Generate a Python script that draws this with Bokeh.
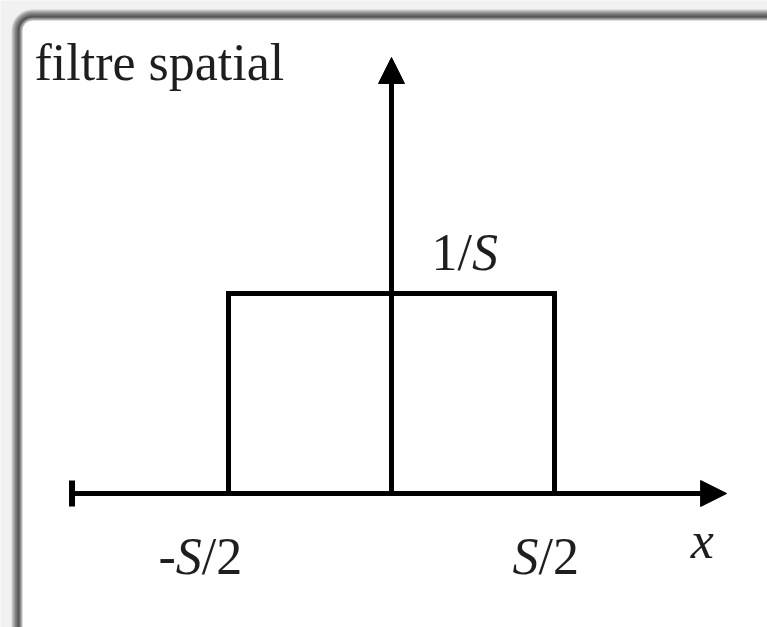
from bokeh.plotting import figure
from bokeh.models import Range1d, Arrow, NormalHead, TeeHead, BoxAnnotation
from bokeh.core.properties import value
from bokeh.embed import file_html
from bokeh.resources import INLINE

# Rectangular (box) spatial filter of width S and height 1/S
S = 1.0
pulse_x = [-S / 2, -S / 2, S / 2, S / 2]
pulse_y = [0.0, 1 / S, 1 / S, 0.0]

# Extent of the drawn axes, in units of S (x) and 1/S (y)
x_axis_start, x_axis_end = -0.98, 1.028
y_axis_end = 2.18

title_text = "filtre spatial"
# Rich labels: (piece, italic?)
label_left = [("-", False), ("S", True), ("/2", False)]
label_right = [("S", True), ("/2", False)]
label_height = [("1/", False), ("S", True)]
label_axis = [("x", True)]

# Canvas geometry
W, H = 767, 627
X0, XPX = 391, 326      # pixel of x = 0, pixels per unit of S
Y0, YPX = 493, 200      # pixel of y = 0, pixels per unit of 1/S

INK = "#1e1e1e"
FONT = "Liberation Serif"
FS = 52
RAISE = 18  # pixels between the requested and the drawn baseline

p = figure(width=W, height=H,
           x_range=Range1d(-X0 / XPX, (W - X0) / XPX),
           y_range=Range1d(-(H - Y0) / YPX, Y0 / YPX),
           output_backend="svg", toolbar_location=None,
           x_axis_location=None, y_axis_location=None,
           min_border=0, outline_line_color=None,
           background_fill_color="#f1f1f1", border_fill_color="#f1f1f1")
p.grid.grid_line_color = None


def px_x(px):
    return (px - X0) / XPX


def px_y(py):
    return (Y0 - py) / YPX


# Card with a soft shadow along its top and left edges
far_r, far_b = px_x(W + 60), px_y(H + 60)
for d in range(11, 0, -1):
    p.add_layout(BoxAnnotation(left=px_x(22 - d), top=px_y(20 - d), right=far_r, bottom=far_b,
                               fill_color="black", fill_alpha=0.12, line_color=None,
                               border_radius=10 + d, level="underlay"))
for d in (3, 2, 1):
    p.add_layout(BoxAnnotation(left=px_x(22 - d), top=px_y(20 - d), right=far_r, bottom=far_b,
                               fill_color="white", fill_alpha=0.3, line_color=None,
                               border_radius=10 + d, level="underlay"))
p.add_layout(BoxAnnotation(left=px_x(22), top=px_y(20), right=far_r, bottom=far_b,
                           fill_color="white", fill_alpha=1.0, line_color=None,
                           border_radius=10, level="underlay"))

# The box function
p.line(pulse_x, pulse_y, line_color="black", line_width=5, line_join="miter")

# Axes with arrow heads
p.add_layout(Arrow(x_start=x_axis_start, y_start=0, x_end=x_axis_end, y_end=0,
                   line_color="black", line_width=5,
                   start=TeeHead(size=26, line_width=6, line_color="black"),
                   end=NormalHead(size=26, fill_color="black", line_color="black")))
p.add_layout(Arrow(x_start=0, y_start=0, x_end=0, y_end=y_axis_end,
                   line_color="black", line_width=5,
                   end=NormalHead(size=26, fill_color="black", line_color="black")))

# Advance widths (em) of the glyphs used, for placing pieces side by side
ADV = {"-": 0.333, "1": 0.5, "/": 0.278, "2": 0.5, "S": 0.5, "x": 0.444}


def put_text(txt, x, y, dx=0, italic=False):
    kw = dict(text_font_style="italic") if italic else {}
    p.text(x=[x], y=[y + RAISE / YPX], text=[txt], x_offset=dx,
           text_font=value(FONT), text_font_size=f"{FS}px",
           text_color=INK, text_align="left", text_baseline="alphabetic", **kw)


def rich(pieces, x, y, dx):
    off = dx
    for txt, ital in pieces:
        put_text(txt, x, y, off, ital)
        off += sum(ADV[c] for c in txt) * FS


tick_y = px_y(574)
rich(label_left, -S / 2, tick_y, -70)
rich(label_right, S / 2, tick_y, -42)
rich(label_height, 0, 1 / S + 23 / YPX, 40)
rich(label_axis, x_axis_end, px_y(558), -36)

put_text(title_text, px_x(34), px_y(80))

open("out.html", "w").write(file_html(p, INLINE))
